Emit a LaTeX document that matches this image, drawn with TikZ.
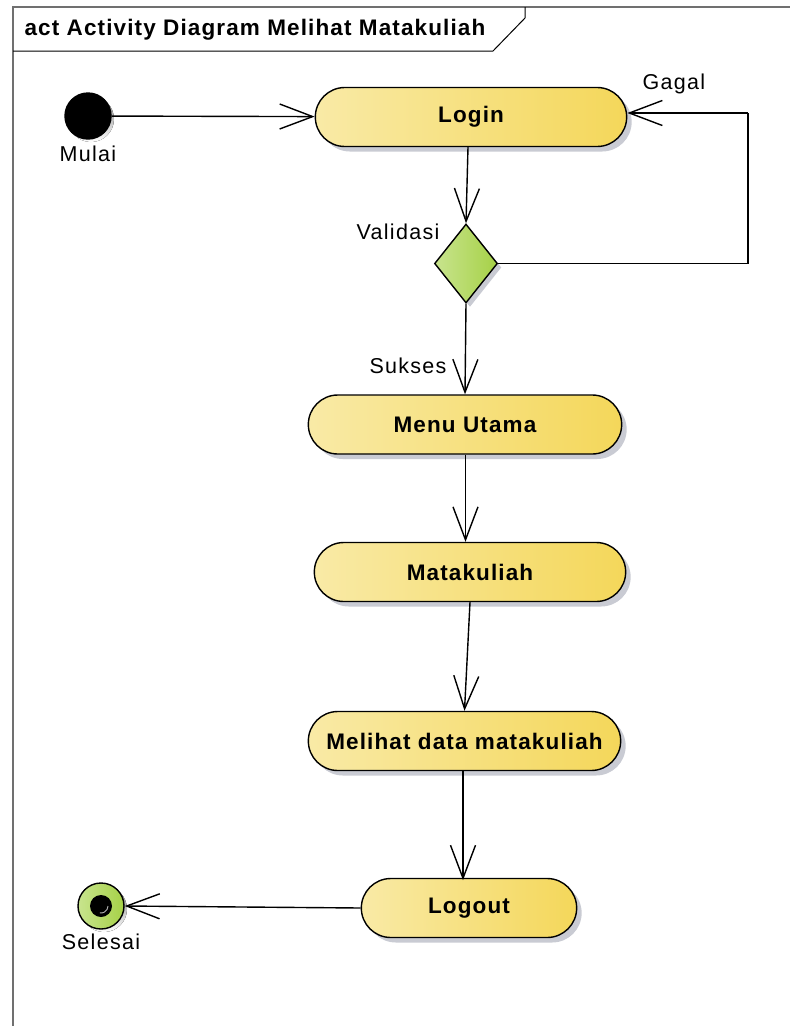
\documentclass[tikz,border=0pt]{standalone}
\usepackage{fontspec}
\setmainfont{Liberation Sans}
\newfontfamily\labelfont[LetterSpace=6]{Liberation Sans}
\newfontfamily\headfont[LetterSpace=5]{Liberation Sans}
\usetikzlibrary{arrows.meta,shapes.misc,shapes.geometric,shadows,calc}
\definecolor{actL}{HTML}{F9EAA6}
\definecolor{actR}{HTML}{F4D75A}
\definecolor{decL}{HTML}{C8E48E}
\definecolor{decR}{HTML}{A6D147}
\definecolor{shade}{HTML}{C9CBD3}
\definecolor{framecol}{HTML}{707070}
\begin{document}
\begin{tikzpicture}[x=1pt,y=-1pt,
  flow/.style={line width=1.4pt,-{Straight Barb[length=33pt,width=25pt,line width=1.4pt]}},
  action/.style={rounded rectangle,draw,line width=1.4pt,left color=actL,right color=actR,
    minimum height=59pt,font=\headfont\fontsize{22.5}{25}\selectfont\bfseries,
    drop shadow={shadow xshift=5pt,shadow yshift=-5pt,fill=shade,opacity=1}},
  decision/.style={diamond,draw,line width=1.4pt,left color=decL,right color=decR,
    minimum width=63pt,minimum height=79pt,inner sep=0pt,aspect=0.8,
    drop shadow={shadow xshift=4pt,shadow yshift=-4pt,fill=shade,opacity=1}},
  lbl/.style={font=\labelfont\fontsize{21.5}{24}\selectfont}]
\useasboundingbox (0,0) rectangle (790,1026);
% frame and title tab
\draw[framecol,line width=1.5pt] (13,1030) -- (13,7) -- (795,7);
\draw[line width=1pt] (13,51) -- (493,51) -- (525,18) -- (525,7);
\node[anchor=west,font=\headfont\fontsize{22.5}{25}\selectfont\bfseries] (title) at (21,30) {act Activity Diagram Melihat Matakuliah};
% start and end nodes
\fill[shade] (91,119) circle (23);
\node[circle,draw,line width=1.4pt,fill=black,minimum size=46pt,inner sep=0pt] (start) at (88,116) {};
\node[lbl] (mulai) at (88,154) {Mulai};
\fill[shade] (104,909) circle (23);
\node[circle,draw,line width=1.4pt,left color=decL,right color=decR,minimum size=46pt,inner sep=0pt] (stop) at (101,906) {};
\fill[black] (stop.center) circle (11);
\draw[gray!60,line width=0.9pt] ($(stop.center)+(7,0)$) arc[start angle=0,end angle=100,radius=7];
\node[lbl] (selesai) at (101,942) {Selesai};
% actions
\node[action,minimum width=318pt] (login) at (471,117) {Login};
\node[decision] (valid) at (466,263.5) {};
\node[lbl] (validasi) at (398,232) {Validasi};
\node[action,minimum width=320pt] (menu) at (465,424.5) {Menu Utama};
\node[action,minimum width=318pt] (matkul) at (470,572) {Matakuliah};
\node[action,minimum width=319pt] (lihat) at (464.5,741) {Melihat data matakuliah};
\node[action,minimum width=222pt] (logout) at (469,908) {Logout};
% flows
\coordinate (loopA) at (748,263.5);
\coordinate (loopB) at (748,113);
\draw[flow] (start) -- (login);
\draw[flow] (login.south) ++(-3,0) -- (valid.north);
\draw[line width=1.4pt] (valid.east) -- (loopA) -- (loopB);
\draw[flow] (loopB) -- (login.east |- loopB);
\node[lbl] (gagal) at (674,84) {Gagal};
\draw[flow] (valid.south) -- (menu.north);
\node[lbl,anchor=east] (sukses) at (450,366) {Sukses};
\draw[flow] ($(menu.south)+(0.5,0)$) -- ($(matkul.north -| menu.south)+(0.5,0)$);
\draw[flow] (matkul.south) -- (lihat.north);
\draw[flow] ($(lihat.south)+(-1.5,0)$) -- ++(0,109);
\draw[flow] (logout.west) -- (stop.east);
\end{tikzpicture}
\end{document}
